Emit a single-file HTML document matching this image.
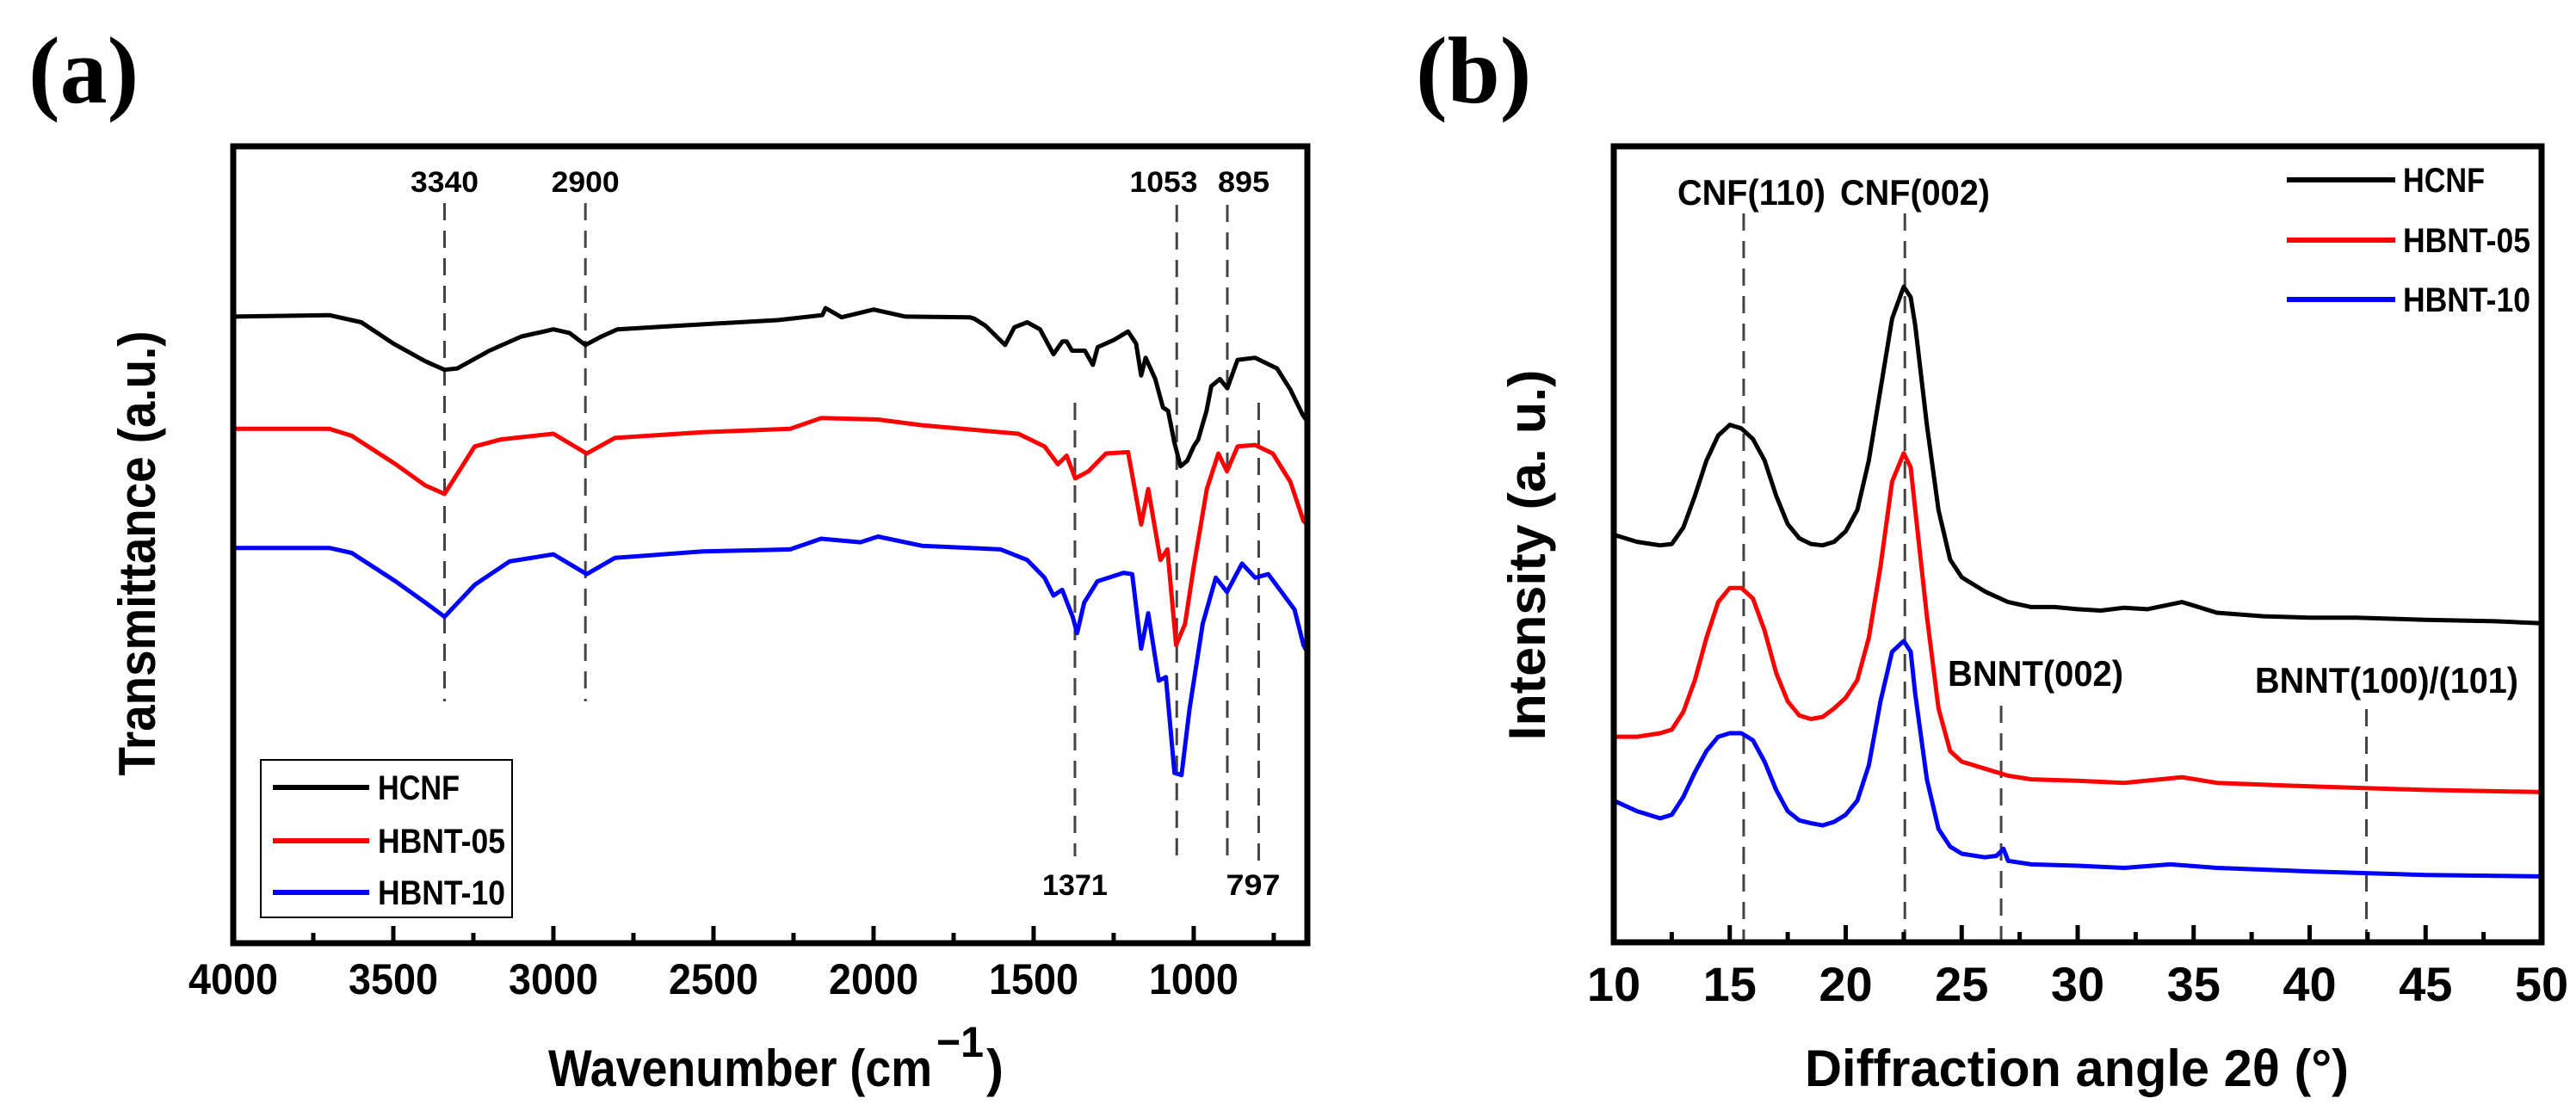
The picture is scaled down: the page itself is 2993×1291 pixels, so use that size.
<!DOCTYPE html>
<html><head><meta charset="utf-8"><style>
html,body{margin:0;padding:0;background:#fff;}
svg{display:block;font-family:"Liberation Sans",sans-serif;}
</style></head><body>
<svg id="fig" width="2993" height="1291" viewBox="0 0 2993 1291" xmlns="http://www.w3.org/2000/svg">
<text x="33" y="119" font-family="Liberation Serif" font-weight="bold" font-size="110">(a)</text>
<text x="1645" y="119" font-family="Liberation Serif" font-weight="bold" font-size="110">(b)</text>
<g id="pa"></g>
<g id="pb"></g>
</svg>
<script>
// ---- Panel (a) FTIR data (y in arbitrary units, offset-stacked) ----
const ftirHCNF_x=[4000,3700,3600,3500,3400,3340,3300,3200,3100,3000,2950,2900,2850,2800,2500,2300,2160,2150,2100,2000,1900,1700,1685,1650,1589,1560,1520,1480,1438,1410,1397,1380,1340,1315,1300,1250,1205,1180,1164,1150,1120,1096,1080,1060,1041,1020,1000,986,960,945,918,895,863,808,740,698,660,645];
const ftirHCNF_y=[883,885,875,845,820,808,810,835,855,865,860,843,855,865,873,878,885,895,882,893,883,882,880,870,843,868,875,865,830,848,848,835,835,815,840,850,862,845,800,825,795,755,750,705,672,680,700,710,750,785,795,782,822,825,810,780,745,735];
const ftirH05_x=[4000,3700,3630,3493,3400,3340,3246,3164,3000,2896,2808,2534,2260,2164,1986,1849,1548,1466,1424,1397,1370,1329,1274,1205,1164,1142,1104,1082,1055,1027,1000,959,923,896,863,808,753,698,657,645];
const ftirH05_y=[725,725,715,675,645,633,700,710,718,690,712,720,725,740,738,730,718,700,675,687,655,665,690,692,590,640,540,555,420,450,530,640,690,665,700,702,690,650,595,590];
const ftirH10_x=[4000,3700,3630,3493,3400,3340,3246,3137,3000,2896,2808,2534,2260,2164,2041,1986,1849,1603,1520,1466,1438,1411,1378,1364,1342,1301,1219,1192,1164,1142,1109,1087,1060,1038,1013,972,931,896,849,808,767,726,685,657,645];
const ftirH10_y=[557,557,550,510,480,460,505,538,548,520,543,552,555,570,565,573,560,555,540,515,490,498,460,437,480,510,522,520,415,465,370,375,240,237,330,450,515,495,535,515,520,495,470,420,410];
const ftirTicksMajor=[4000,3500,3000,2500,2000,1500,1000];
const ftirTicksMinor=[3750,3250,2750,2250,1750,1250,750];
const ftirPeaks=[3340,2900,1053,895,1371,797];
const ftirPeakLabels=["3340","2900","1053","895","1371","797"];
// ---- Panel (b) XRD data ----
const xrdHCNF_x=[10,11,12,12.5,13,13.5,14,14.5,15,15.5,16,16.5,17,17.5,18,18.5,19,19.5,20,20.5,21,21.5,22,22.5,22.8,23,23.5,24,24.5,25,26,27,28,29,30,31,32,33,34.5,35,36,38,40,42,45,48,50];
const xrdHCNF_y=[575,565,560,562,585,630,680,715,730,725,710,680,630,590,570,562,560,565,580,610,680,780,880,925,910,870,730,610,540,515,495,480,473,473,470,468,472,470,480,475,465,460,458,458,455,453,450];
const xrdH05_x=[10,11,12,12.5,13,13.5,14,14.5,15,15.5,16,16.5,17,17.5,18,18.5,19,19.5,20,20.5,21,21.5,22,22.5,22.8,23,23.5,24,24.5,25,26,27,28,30,32,34.5,36,40,45,50];
const xrdH05_y=[290,290,295,300,325,370,430,480,500,500,485,440,380,340,320,315,318,330,345,370,430,530,650,690,670,610,460,330,270,255,245,235,230,228,225,233,225,220,215,212];
const xrdH10_x=[10,11,12,12.5,13,13.5,14,14.5,15,15.5,16,16.5,17,17.5,18,18.5,19,19.5,20,20.5,21,21.5,22,22.5,22.8,23,23.5,24,24.5,25,26,26.5,26.8,27,28,30,32,34,36,40,45,50];
const xrdH10_y=[200,185,175,180,205,240,270,290,295,295,285,255,215,185,172,168,165,170,180,200,250,340,410,425,410,350,230,160,135,125,120,122,132,115,110,108,105,110,105,100,95,93];
const xrdTicksMajor=[10,15,20,25,30,35,40,45,50];
const xrdTicksMinor=[12.5,17.5,22.5,27.5,32.5,37.5,42.5,47.5];
const xrdPeaks=[15.6,22.55,26.7,42.45];

const NS="http://www.w3.org/2000/svg";
function mk(parent,tag,attrs,text){const e=document.createElementNS(NS,tag);for(const k in attrs)e.setAttribute(k,attrs[k]);if(text!==undefined)e.textContent=text;parent.appendChild(e);return e;}

// ===== Panel A =====
const A={l:271,r:1519,t:170,b:1096};
const xa=w=>A.l+(4000-w)/(4000-645)*(A.r-A.l);
const ya=v=>A.t+(1123-v)/1123*(A.b-A.t);
const pa=document.getElementById('pa');
function series(g,xs,ys,fx,fy,color,name){
  let d='';for(let i=0;i<xs.length;i++)d+=(i?'L':'M')+fx(xs[i]).toFixed(1)+','+fy(ys[i]).toFixed(1);
  const p=mk(g,'path',{d:d,fill:'none',stroke:color,'stroke-width':5,'stroke-linejoin':'round'});
  
  
}
const aDashTop=[236,236,238,238,468,468];
const aDashBot=[815,815,1000,1000,995,1000];
ftirPeaks.forEach((w,i)=>{
  const l=mk(pa,'line',{x1:xa(w),x2:xa(w),y1:aDashTop[i],y2:aDashBot[i],stroke:'#444','stroke-width':3,'stroke-dasharray':'20,12'});
  
  
});
series(pa,ftirHCNF_x,ftirHCNF_y,xa,ya,'#000','hcnf-ftir-line');
series(pa,ftirH05_x,ftirH05_y,xa,ya,'#f00','hbnt05-ftir-line');
series(pa,ftirH10_x,ftirH10_y,xa,ya,'#00f','hbnt10-ftir-line');
const aLabY=[223,223,223,223,1040,1040];
const aLabW=[79,79,79,60,76,63];
ftirPeaks.forEach((w,i)=>{
  let cx=xa(w); if(i===2)cx=1352; if(i===3)cx=1445; if(i===5)cx=1456;
  const t=mk(pa,'text',{x:cx,y:aLabY[i],'text-anchor':'middle','font-size':34,'font-weight':'bold',textLength:aLabW[i],lengthAdjust:'spacingAndGlyphs'},ftirPeakLabels[i]);
  
  
});
ftirTicksMajor.forEach(w=>{
  const x=xa(w);
  const tk=mk(pa,'line',{x1:x,x2:x,y1:A.b,y2:A.b-20,stroke:'#000','stroke-width':5});
  
  
  const t=mk(pa,'text',{x:x,y:1155,'text-anchor':'middle','font-size':50,'font-weight':'bold',textLength:104,lengthAdjust:'spacingAndGlyphs'},String(w));
  
  
});
ftirTicksMinor.forEach(w=>{
  const x=xa(w);
  const tk=mk(pa,'line',{x1:x,x2:x,y1:A.b,y2:A.b-12,stroke:'#000','stroke-width':5});
  
  
});
const boxA=mk(pa,'rect',{x:A.l,y:A.t,width:A.r-A.l,height:A.b-A.t,fill:'none',stroke:'#000','stroke-width':7});


const lgA=mk(pa,'g',{});


mk(lgA,'rect',{x:303,y:883,width:292,height:183,fill:'#fff',stroke:'#000','stroke-width':2});
const legNames=['HCNF','HBNT-05','HBNT-10'],legCols=['#000','#f00','#00f'];
const legAy=[915,977,1037],legAw=[95,148,148];
legNames.forEach((n,i)=>{
  const e=mk(lgA,'g',{});
  
  
  mk(e,'line',{x1:317,x2:429,y1:legAy[i],y2:legAy[i],stroke:legCols[i],'stroke-width':6});
  mk(e,'text',{x:439,y:legAy[i]+14,'font-size':40,'font-weight':'bold',textLength:legAw[i],lengthAdjust:'spacingAndGlyphs'},n);
});
const ytA=mk(pa,'text',{x:0,y:0,transform:'translate(180,643) rotate(-90)','text-anchor':'middle','font-size':60,'font-weight':'bold',textLength:517,lengthAdjust:'spacingAndGlyphs'},'Transmittance (a.u.)');


const xtA=mk(pa,'g',{});


mk(xtA,'text',{x:637,y:1262,'font-size':60,'font-weight':'bold',textLength:446,lengthAdjust:'spacingAndGlyphs'},'Wavenumber (cm');
mk(xtA,'text',{x:1088,y:1228,'font-size':50,'font-weight':'bold',textLength:55,lengthAdjust:'spacingAndGlyphs'},'\u22121');
mk(xtA,'text',{x:1146,y:1262,'font-size':60,'font-weight':'bold'},')');

// ===== Panel B =====
const B={l:1875,r:2953,t:170,b:1095};
const xb=v=>B.l+(v-10)/40*(B.r-B.l);
const yb=v=>B.t+(1123-v)/1123*(B.b-B.t);
const pb=document.getElementById('pb');
const bDashTop=[248,248,820,824];
const bNames=['cnf-110','cnf-002','bnnt-002','bnnt-100-101'];
xrdPeaks.forEach((v,i)=>{
  const l=mk(pb,'line',{x1:xb(v),x2:xb(v),y1:bDashTop[i],y2:B.b,stroke:'#444','stroke-width':3,'stroke-dasharray':'20,12'});
  
  
});
series(pb,xrdHCNF_x,xrdHCNF_y,xb,yb,'#000','hcnf-xrd-line');
series(pb,xrdH05_x,xrdH05_y,xb,yb,'#f00','hbnt05-xrd-line');
series(pb,xrdH10_x,xrdH10_y,xb,yb,'#00f','hbnt10-xrd-line');
const bLab=[['CNF(110)',1949,238,172],['CNF(002)',2138,238,174],['BNNT(002)',2263,797,204],['BNNT(100)/(101)',2620,805,306]];
bLab.forEach((b,i)=>{
  const t=mk(pb,'text',{x:b[1],y:b[2],'font-size':42,'font-weight':'bold',textLength:b[3],lengthAdjust:'spacingAndGlyphs'},b[0]);
  
  
});
xrdTicksMajor.forEach(v=>{
  const x=xb(v);
  const tk=mk(pb,'line',{x1:x,x2:x,y1:B.b,y2:B.b-20,stroke:'#000','stroke-width':5});
  
  
  const t=mk(pb,'text',{x:x,y:1163,'text-anchor':'middle','font-size':56,'font-weight':'bold'},String(v));
  
  
});
xrdTicksMinor.forEach(v=>{
  const x=xb(v);
  const tk=mk(pb,'line',{x1:x,x2:x,y1:B.b,y2:B.b-12,stroke:'#000','stroke-width':5});
  
  
});
const boxB=mk(pb,'rect',{x:B.l,y:B.t,width:B.r-B.l,height:B.b-B.t,fill:'none',stroke:'#000','stroke-width':7});


const lgB=mk(pb,'g',{});


const legBy=[209,279,348];
legNames.forEach((n,i)=>{
  const e=mk(lgB,'g',{});
  
  
  mk(e,'line',{x1:2657,x2:2783,y1:legBy[i],y2:legBy[i],stroke:legCols[i],'stroke-width':6});
  mk(e,'text',{x:2792,y:legBy[i]+14,'font-size':40,'font-weight':'bold',textLength:legAw[i],lengthAdjust:'spacingAndGlyphs'},n);
});
const ytB=mk(pb,'text',{x:0,y:0,transform:'translate(1795,645) rotate(-90)','text-anchor':'middle','font-size':60,'font-weight':'bold',textLength:431,lengthAdjust:'spacingAndGlyphs'},'Intensity (a. u.)');


const xtB=mk(pb,'text',{x:2097,y:1262,'font-size':60,'font-weight':'bold',textLength:632,lengthAdjust:'spacingAndGlyphs'},'Diffraction angle 2\u03B8 (\u00B0)');


</script>
</body></html>
